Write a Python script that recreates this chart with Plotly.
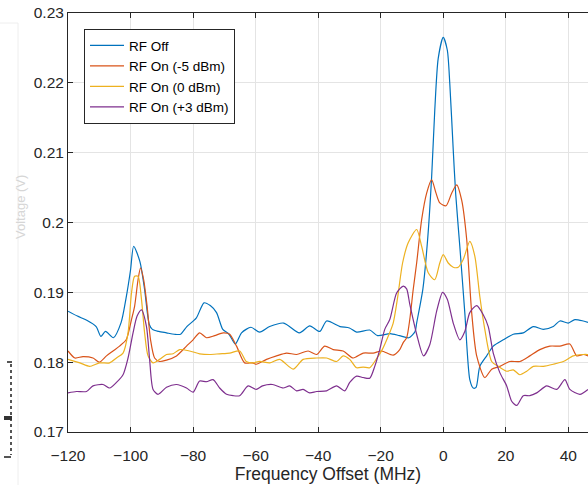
import plotly.graph_objects as go

# ---------------- data ----------------
series_names = ["RF Off", "RF On (-5 dBm)", "RF On (0 dBm)", "RF On (+3 dBm)"]

off_x = [-120, -117, -114, -111, -109.5, -108, -105.5, -103, -101.5, -100, -99, -97, -95.5, -94, -93,
         -91, -88.5, -86, -84, -82, -79, -76.5, -74.5, -72.5, -70.5, -68.5, -66.5, -64.5, -61.5,
         -58.7, -55.5, -51, -46, -42.7, -39.5, -37.3, -33, -30, -27.7, -23.5, -21, -17, -14, -11,
         -9, -8.5, -6.5, -5, -3.7, -2.7, -1.6, 0, 1.3, 2.1, 3.2, 4, 5.3, 6.9, 8.5, 9.6, 10.5, 11.7,
         13.9, 16, 19.2, 22.4, 25.6, 28.8, 32, 35.2, 37.3, 40, 42.1, 44.8, 46.3]
off_y = [0.1873, 0.1866, 0.1860, 0.1851, 0.1837, 0.1844, 0.1835, 0.1857, 0.1890, 0.1932, 0.1966,
         0.1944, 0.1904, 0.1854, 0.1847, 0.1844, 0.1842, 0.1840, 0.1840, 0.1851, 0.1863, 0.1885,
         0.1881, 0.1871, 0.1847, 0.1840, 0.1826, 0.1842, 0.1850, 0.1843, 0.1851, 0.1856, 0.1842,
         0.1852, 0.1844, 0.1859, 0.1851, 0.1849, 0.1843, 0.1846, 0.1838, 0.1841, 0.1838, 0.1835,
         0.1844, 0.1856, 0.1905, 0.1975, 0.2066, 0.2161, 0.2235, 0.2265, 0.2247, 0.2199, 0.2104,
         0.2040, 0.1966, 0.1871, 0.1775, 0.1763, 0.1764, 0.1794, 0.1809, 0.1823, 0.1832, 0.1840,
         0.1842, 0.1851, 0.1847, 0.1851, 0.1859, 0.1856, 0.1861, 0.1859, 0.1857]

m5_x = [-120, -117.8, -115.2, -112, -110, -107.7, -105.6, -103.5, -101.4, -99.7, -98.7, -97.6, -96.8,
        -95.8, -94.7, -93.6, -92.3, -90.7, -88.5, -85.3, -82.1, -80, -77.9, -75.7, -73.1, -70.4,
        -68.3, -66.1, -63.5, -61, -59.8, -56.5, -53.3, -50.1, -46.9, -43.2, -40.5, -37.9, -35.2,
        -32, -28.8, -25.6, -22.4, -19.7, -16, -13.9, -12.8, -11.7, -10.7, -9.6, -8.5, -6.9, -5.3,
        -3.7, -2.3, -1.1, 0.9, 2.7, 4.3, 5.9, 7.5, 9.1, 10.7, 13.3, 15.5, 18.1, 21.3, 24.5, 27.7,
        30.9, 34.1, 37.3, 40.5, 42.7, 44.8, 46.3]
m5_y = [0.1816, 0.1806, 0.1808, 0.1806, 0.1800, 0.1809, 0.1816, 0.1823, 0.1832, 0.1861, 0.1880,
        0.1918, 0.1935, 0.1918, 0.1880, 0.1832, 0.1806, 0.1801, 0.1803, 0.1809, 0.1823, 0.1832,
        0.1842, 0.1835, 0.1838, 0.1842, 0.1840, 0.1823, 0.1799, 0.1799, 0.1797, 0.1804, 0.1809,
        0.1813, 0.1811, 0.1816, 0.1811, 0.1823, 0.1818, 0.1816, 0.1806, 0.1813, 0.1813, 0.1816,
        0.1810, 0.1818, 0.1828, 0.1835, 0.1861, 0.1904, 0.1942, 0.2004, 0.2042, 0.2061, 0.2042,
        0.2028, 0.2024, 0.2042, 0.2054, 0.2032, 0.1976, 0.1871, 0.1809, 0.1778, 0.1790, 0.1794,
        0.1801, 0.1801, 0.1809, 0.1818, 0.1823, 0.1823, 0.1826, 0.1809, 0.1811, 0.1809]

z0_x = [-120, -116.2, -113.1, -109.9, -106.7, -104.5, -102.4, -100.8, -99.7, -98.7, -97.6, -96.5,
        -95.5, -94.4, -92.8, -90.7, -88.5, -86.4, -84.3, -81.1, -77.9, -74.7, -71.5, -68.3, -65.1,
        -63, -60.8, -58.7, -55.5, -52.3, -48, -44.8, -40.5, -37.3, -34.1, -32, -29.9, -27.7, -25.6,
        -23.5, -21.3, -19.5, -17.6, -16, -14.6, -13, -11.2, -8.5, -6.9, -4.8, -2.7, -1.1, 0, 1.6,
        3.2, 4.8, 6.4, 8.5, 10.1, 11.7, 13.3, 15.5, 17.6, 20.3, 22.4, 24.5, 26.7, 28.8, 32, 35.2,
        38.4, 41.6, 44.8, 46.3]
z0_y = [0.1804, 0.1799, 0.1794, 0.1799, 0.1799, 0.1806, 0.1813, 0.1842, 0.1899, 0.1923, 0.1923,
        0.1890, 0.1842, 0.1809, 0.1799, 0.1804, 0.1811, 0.1812, 0.1818, 0.1816, 0.1812, 0.1811,
        0.1812, 0.1813, 0.1816, 0.1801, 0.1799, 0.1801, 0.1799, 0.1804, 0.1790, 0.1804, 0.1806,
        0.1806, 0.1801, 0.1809, 0.1804, 0.1792, 0.1793, 0.1792, 0.1805, 0.1818, 0.1837, 0.1856,
        0.1892, 0.1942, 0.1971, 0.1990, 0.1966, 0.1928, 0.1918, 0.1942, 0.1954, 0.1942, 0.1936,
        0.1936, 0.1947, 0.1973, 0.1952, 0.1894, 0.1847, 0.1801, 0.1794, 0.1787, 0.1789, 0.1782,
        0.1787, 0.1794, 0.1794, 0.1797, 0.1801, 0.1809, 0.1811, 0.1811]

p3_x = [-120, -117.3, -114.1, -112, -108.8, -106.7, -104.5, -102.4, -100.8, -99.2, -97.9, -96.5,
        -94.9, -93.9, -92.8, -91.2, -88.5, -85.3, -82.1, -80, -77.9, -75.7, -73.6, -71.5, -69.3,
        -67.2, -65.1, -62.4, -59.8, -57.8, -54.6, -51.2, -49.1, -46.9, -44.8, -42.7, -40.5, -37.3,
        -34.1, -31.5, -29.9, -27.7, -25.6, -23.5, -21.9, -20.3, -18.7, -17.1, -14.9, -12.8, -11.7,
        -10.7, -8.5, -6.3, -4.3, -2.1, -0.2, 1.3, 3.2, 5.3, 6.9, 8.5, 10.7, 12.8, 14.4, 16, 18.1,
        20.3, 21.9, 23.5, 25.6, 27.7, 29.9, 33.1, 36.3, 38.9, 40.5, 43.7, 46.3]
p3_y = [0.1756, 0.1758, 0.1758, 0.1766, 0.1768, 0.1763, 0.1771, 0.1782, 0.1806, 0.1842, 0.1866,
        0.1875, 0.1851, 0.1804, 0.1761, 0.1754, 0.1764, 0.1768, 0.1763, 0.1757, 0.1773, 0.1772,
        0.1775, 0.1763, 0.1754, 0.1752, 0.1752, 0.1766, 0.1761, 0.1766, 0.1768, 0.1763, 0.1766,
        0.1759, 0.1761, 0.1756, 0.1758, 0.1759, 0.1766, 0.1759, 0.1771, 0.1780, 0.1778, 0.1777,
        0.1794, 0.1818, 0.1847, 0.1861, 0.1899, 0.1909, 0.1905, 0.1883, 0.1840, 0.1809, 0.1825,
        0.1873, 0.1900, 0.1890, 0.1856, 0.1832, 0.1844, 0.1871, 0.1881, 0.1868, 0.1851, 0.1813,
        0.1785, 0.1766, 0.1744, 0.1738, 0.1752, 0.1752, 0.1756, 0.1766, 0.1761, 0.1775, 0.1761,
        0.1754, 0.1761]

x_tick_vals = [-120, -100, -80, -60, -40, -20, 0, 20, 40]
y_tick_vals = [0.17, 0.18, 0.19, 0.2, 0.21, 0.22, 0.23]
y_tick_text = ["0.17", "0.18", "0.19", "0.2", "0.21", "0.22", "0.23"]

colors = ["#0072BD", "#D95319", "#EDB120", "#7E2F8E"]
xs = [off_x, m5_x, z0_x, p3_x]
ys = [off_y, m5_y, z0_y, p3_y]

# ---------------- figure ----------------
W, H = 588, 485
ML, MR, MT, MB = 68, 0, 13, 53
PW, PH = W - ML - MR, H - MT - MB

def px(xp):
    return (xp - ML) / PW

def py(yp):
    return (H - MB - yp) / PH

fig = go.Figure()
for name, x, y, c in zip(series_names, xs, ys, colors):
    fig.add_trace(go.Scatter(x=x, y=y, mode="lines", name=name,
                             line=dict(color=c, width=1.2, shape="spline", smoothing=0.7)))

font_family = "Liberation Sans, Arial, sans-serif"
axis_color = "#262626"
grid_color = "#e4e4e4"

fig.update_layout(
    width=W, height=H,
    margin=dict(l=ML, r=MR, t=MT, b=MB, pad=0),
    paper_bgcolor="white", plot_bgcolor="white",
    font=dict(family=font_family, color=axis_color, size=15),
    showlegend=True,
    legend=dict(x=px(84), y=py(29), xanchor="left", yanchor="top",
                bgcolor="white", bordercolor=axis_color, borderwidth=1,
                font=dict(size=13.5, color="#000000"),
                tracegroupgap=0, itemwidth=34),
    xaxis=dict(range=[-120, 46.3], tickvals=x_tick_vals, ticks="inside", ticklen=5,
               tickcolor=axis_color, showline=True, linecolor=axis_color, linewidth=1,
               mirror="ticks", showgrid=True, gridcolor=grid_color, gridwidth=1,
               zeroline=False, tickfont=dict(size=15.5), ticklabelstandoff=9,
               title=dict(text="Frequency Offset (MHz)", font=dict(size=17.5), standoff=3)),
    yaxis=dict(range=[0.17, 0.23], tickvals=y_tick_vals, ticktext=y_tick_text,
               ticks="inside", ticklen=5, tickcolor=axis_color, showline=True,
               linecolor=axis_color, linewidth=1, mirror=False, showgrid=True,
               gridcolor=grid_color, gridwidth=1, zeroline=False, tickfont=dict(size=15.5)),
)

# faint clipped y-axis label
fig.add_annotation(text="Voltage (V)", textangle=-90, xref="paper", yref="paper",
                   x=px(21), y=py(207), xanchor="center", yanchor="middle", showarrow=False,
                   font=dict(size=13, color="#d6d6d6", family=font_family))

# left-edge artifacts (panel border and dotted bracket)
fig.add_shape(type="line", xref="paper", yref="paper", x0=px(18), x1=px(18), y0=py(23), y1=py(485),
              line=dict(color="#eeeeee", width=1))
fig.add_shape(type="line", xref="paper", yref="paper", x0=px(0), x1=px(18), y0=py(23), y1=py(23),
              line=dict(color="#eeeeee", width=1))
fig.add_shape(type="line", xref="paper", yref="paper", x0=px(11), x1=px(11), y0=py(364), y1=py(455),
              line=dict(color="#555555", width=2, dash="dot"))
fig.add_shape(type="line", xref="paper", yref="paper", x0=px(7), x1=px(12), y0=py(362), y1=py(362),
              line=dict(color="#555555", width=2))
fig.add_shape(type="line", xref="paper", yref="paper", x0=px(4), x1=px(11), y0=py(457), y1=py(457),
              line=dict(color="#555555", width=2))
fig.add_shape(type="rect", xref="paper", yref="paper", x0=px(4), x1=px(12), y0=py(420), y1=py(416),
              line=dict(width=0), fillcolor="#333333")

fig.write_html("out.html", config={"displayModeBar": False},
               post_script="document.body.style.margin='0';document.body.style.padding='0';"
                           "document.body.style.overflow='hidden';")
